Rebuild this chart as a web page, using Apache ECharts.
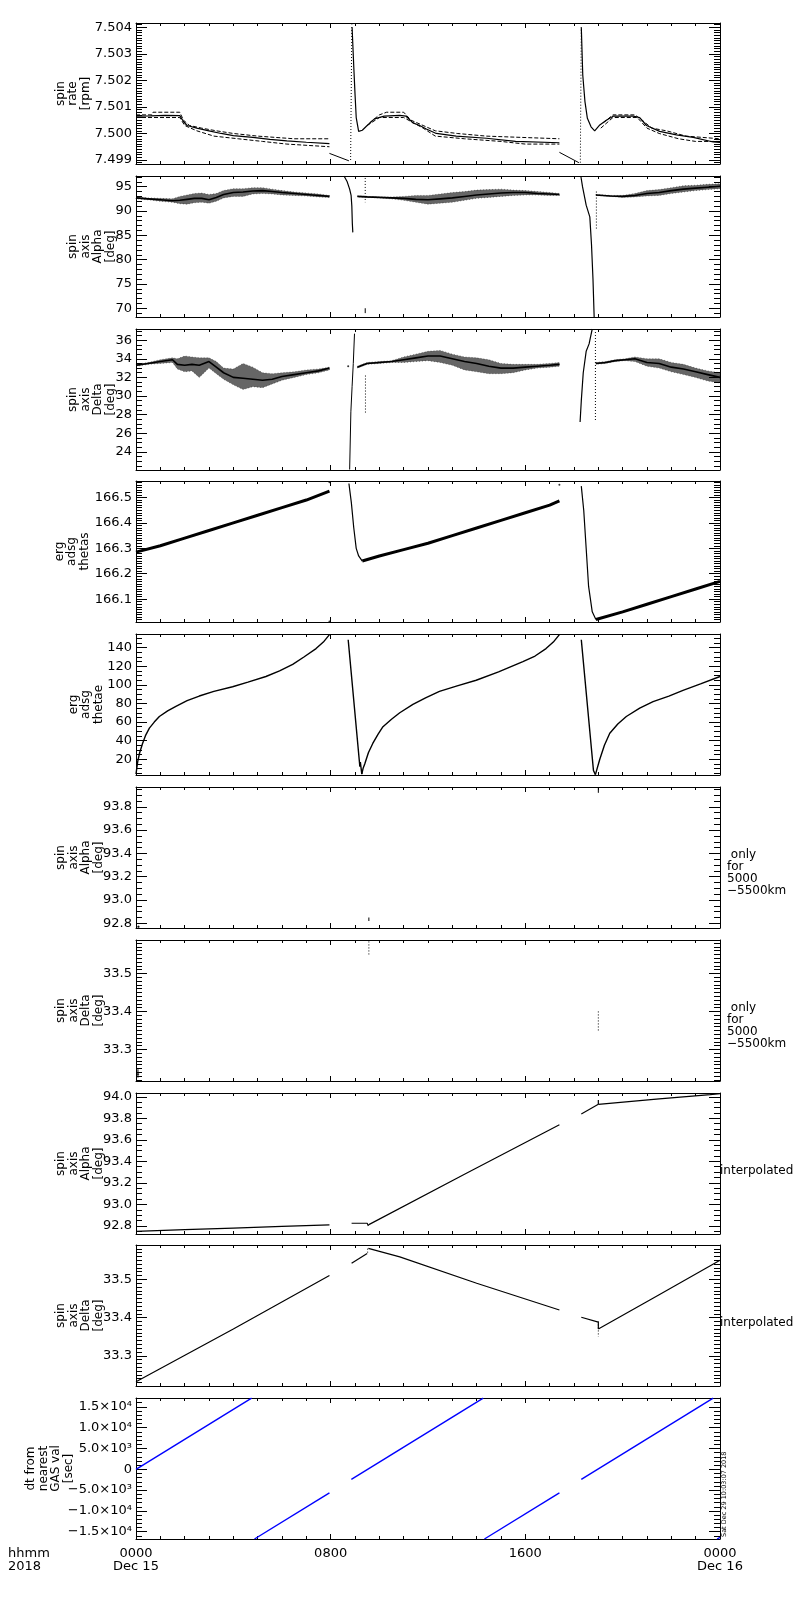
<!DOCTYPE html>
<html>
<head>
<meta charset="utf-8">
<script src="https://cdn.jsdelivr.net/npm/echarts@6/dist/echarts.min.js"></script>
<style>
html,body{margin:0;padding:0;background:#fff}
#main{width:800px;height:1600px}
</style>
</head>
<body>
<div id="main"></div>
<script>
// time axis in hours from 0000 Dec 15 2018
var timeLabels = {0:'0000\nDec 15', 8:'0800', 16:'1600', 24:'0000\nDec 16'};

// ---- panel 1 : spin rate [rpm]
var rateMidA = [[0,7.50065],[0.6,7.50066],[1.2,7.50068],[1.8,7.50067],[1.95,7.50045],[2.1,7.50030],[2.5,7.50020],[3.0,7.50010],[3.5,7.50000],[4.0,7.49992],[4.8,7.49985],[5.5,7.49978],[6.2,7.49972],[7.0,7.49967],[7.95,7.49962]];
var rateHiA = [[0,7.5007],[0.65,7.5007],[0.7,7.5008],[1.8,7.5008],[1.95,7.5005],[2.2,7.5003],[2.7,7.5002],[3.3,7.5001],[4.0,7.5000],[5.0,7.4999],[6.5,7.4998],[7.95,7.4998]];
var rateLoA = [[0,7.5006],[1.8,7.5006],[2.0,7.5003],[2.5,7.5001],[3.2,7.4999],[4.2,7.4998],[5.2,7.4997],[6.2,7.4996],[7.95,7.4995]];
var rateFallA = [[7.95,7.49925],[8.75,7.49897]];
var rateSpikeA = [[8.82,7.4990],[8.87,7.5041]];
var rateRecA = [[8.88,7.5040],[8.95,7.5025],[9.0,7.5015],[9.05,7.5006],[9.15,7.50008],[9.3,7.50012],[9.5,7.5003],[9.8,7.50055],[10.2,7.50065],[10.84,7.50068],[11.1,7.50065],[11.38,7.5004],[11.66,7.5003],[11.93,7.50017],[12.34,7.5000],[13.16,7.4999],[14.4,7.49982],[15.6,7.4997],[17.4,7.49965]];
var rateHiB = [[9.6,7.5004],[10.0,7.5007],[10.3,7.5008],[11.0,7.5008],[11.3,7.5005],[11.8,7.5003],[12.3,7.5001],[13.2,7.5000],[14.4,7.4999],[17.4,7.4998]];
var rateLoB = [[9.5,7.5003],[10.0,7.5006],[11.0,7.5006],[11.4,7.5004],[11.8,7.5002],[12.3,7.4999],[13.5,7.4998],[15.0,7.4997],[16.0,7.4996],[17.4,7.4996]];
var rateFallB = [[17.4,7.49929],[18.2,7.4989]];
var rateSpikeB = [[18.26,7.4989],[18.3,7.5040]];
var rateRecB = [[18.3,7.5040],[18.36,7.5022],[18.45,7.5012],[18.55,7.50057],[18.7,7.50025],[18.85,7.5001],[19.06,7.50032],[19.33,7.5005],[19.61,7.50065],[20.43,7.50065],[20.7,7.5006],[20.98,7.5003],[21.52,7.50008],[22.21,7.49995],[22.9,7.49985],[23.72,7.49968],[24,7.49966]];
var rateHiC = [[19.2,7.5004],[19.6,7.5007],[20.5,7.5007],[20.8,7.5005],[21.2,7.5002],[21.8,7.5001],[22.6,7.4999],[24,7.4998]];
var rateLoC = [[19.1,7.5002],[19.6,7.5006],[20.6,7.5006],[21.0,7.5002],[21.5,7.5000],[22.3,7.4998],[23.0,7.4997],[24,7.4997]];

// ---- panel 2 : spin axis Alpha [deg]
var alphaT1 = [0,0.5,1.0,1.5,1.8,2.1,2.4,2.7,3.0,3.3,3.6,4.0,4.4,4.8,5.2,5.6,6.0,6.5,7.0,7.5,7.95];
var alphaMid1 = [92.7,92.5,92.3,92.1,92.2,92.4,92.6,92.6,92.3,92.8,93.4,93.8,93.9,94.1,94.2,94.0,93.8,93.6,93.4,93.2,93.0];
var alphaHi1 = [92.9,92.7,92.6,92.5,93.0,93.3,93.6,93.7,93.4,93.6,94.2,94.6,94.6,94.8,94.8,94.5,94.2,93.9,93.7,93.5,93.2];
var alphaLo1 = [92.5,92.3,92.0,91.8,91.5,91.4,91.7,91.8,91.6,92.0,92.7,93.0,93.0,93.5,93.6,93.5,93.3,93.2,93.1,92.9,92.8];
var alphaT2 = [9.1,9.5,10,10.5,11,11.5,12,12.5,13,13.5,14,14.5,15,15.5,16,16.5,17,17.4];
var alphaMid2 = [93.0,92.9,92.8,92.7,92.6,92.4,92.3,92.5,92.7,93.0,93.3,93.5,93.7,93.8,93.8,93.6,93.5,93.4];
var alphaHi2 = [93.1,93.0,92.9,92.9,93.0,93.2,93.2,93.5,93.8,94.0,94.3,94.4,94.5,94.3,94.2,94.0,93.8,93.6];
var alphaLo2 = [92.9,92.8,92.7,92.5,92.2,91.8,91.4,91.6,91.8,92.2,92.6,92.8,93.0,93.2,93.3,93.3,93.2,93.2];
var alphaT3 = [18.9,19.5,20,20.5,21,21.5,22,22.5,23,23.5,24];
var alphaMid3 = [93.3,93.1,93.0,93.2,93.6,93.8,94.2,94.5,94.7,94.9,95.1];
var alphaHi3 = [93.4,93.2,93.2,93.6,94.2,94.4,94.8,95.2,95.3,95.5,95.6];
var alphaLo3 = [93.2,93.0,92.8,92.9,93.1,93.2,93.6,93.9,94.2,94.4,94.6];
var alphaDropA = [[8.55,97.2],[8.68,96.0],[8.78,94.5],[8.84,93.2],[8.87,91.0],[8.89,87.5],[8.91,85.6]];
var alphaDotsA = [[9.42,96.8],[9.42,91.8]];
var alphaTickA = [[9.42,70.0],[9.42,69.0]];
var alphaDropB = [[18.28,97.2],[18.35,95.0],[18.45,92.5],[18.5,91.2],[18.58,90.8],[18.65,88.8],[18.72,83.0],[18.78,76.0],[18.83,68.0]];
var alphaDotsB = [[18.92,94.0],[18.92,86.0]];

// ---- panel 3 : spin axis Delta [deg]
var deltaT1 = [0,0.5,1.0,1.5,1.7,2.0,2.3,2.6,3.0,3.3,3.6,4.0,4.4,4.8,5.2,5.6,6.0,6.5,7.0,7.5,7.95];
var deltaMid1 = [33.3,33.5,33.7,33.9,33.4,33.3,33.4,33.3,33.7,33.1,32.5,32.0,31.9,31.8,31.7,31.8,32.1,32.3,32.5,32.7,33.0];
var deltaHi1 = [33.4,33.6,33.9,34.1,34.0,34.3,34.2,34.1,34.1,33.7,33.0,32.9,33.5,33.1,32.5,32.4,32.5,32.6,32.8,32.9,33.1];
var deltaLo1 = [33.2,33.4,33.5,33.6,32.9,32.6,32.7,32.0,33.0,32.4,31.8,31.2,30.7,31.0,30.9,31.3,31.7,32.0,32.3,32.5,32.8];
var deltaT2 = [9.1,9.3,9.5,10,10.5,11,11.5,12,12.5,13,13.5,14,14.5,15,15.5,16,16.5,17,17.4];
var deltaMid2 = [33.1,33.3,33.5,33.6,33.7,33.9,34.1,34.3,34.3,34.0,33.7,33.5,33.2,33.0,33.0,33.1,33.2,33.3,33.4];
var deltaHi2 = [33.2,33.4,33.6,33.7,33.8,34.2,34.5,34.8,34.9,34.5,34.2,34.1,33.9,33.5,33.4,33.4,33.4,33.5,33.6];
var deltaLo2 = [33.0,33.2,33.4,33.5,33.6,33.6,33.7,33.8,33.6,33.3,32.8,32.6,32.4,32.4,32.5,32.8,33.0,33.1,33.2];
var deltaT3 = [18.9,19.3,19.7,20.1,20.5,21,21.5,22,22.5,23,23.5,24];
var deltaMid3 = [33.5,33.6,33.8,33.9,34.0,33.6,33.5,33.1,32.9,32.6,32.3,32.0];
var deltaHi3 = [33.6,33.7,33.9,34.0,34.2,34.0,34.0,33.6,33.4,33.0,32.7,32.5];
var deltaLo3 = [33.4,33.5,33.7,33.8,33.7,33.2,33.0,32.6,32.3,32.0,31.6,31.4];
var deltaDot = [[8.72,33.2]];
var deltaRiseA = [[8.78,22.1],[8.83,28.3],[8.88,31.0],[8.93,33.5],[8.98,36.7]];
var deltaDotsA = [[9.43,32.2],[9.43,28.1]];
var deltaRiseB = [[18.25,27.2],[18.3,29.5],[18.38,32.5],[18.5,34.8],[18.62,35.6],[18.7,36.6],[18.75,37.2]];
var deltaDotsB = [[18.88,37.2],[18.88,27.4]];

// ---- panel 4 : erg adsg thetas
var thetasA = [[0,166.285],[1,166.31],[2,166.34],[3,166.37],[4,166.40],[5,166.43],[6,166.46],[7,166.49],[7.95,166.525]];
var thetasDropA = [[8.75,166.555],[8.85,166.48],[8.95,166.38],[9.05,166.30],[9.15,166.27],[9.3,166.25]];
var thetasB = [[9.3,166.25],[10,166.27],[11,166.295],[12,166.32],[13,166.35],[14,166.38],[15,166.41],[16,166.44],[17,166.47],[17.4,166.487]];
var thetasDropB = [[18.3,166.545],[18.4,166.45],[18.5,166.30],[18.6,166.15],[18.75,166.05],[18.9,166.02]];
var thetasC = [[18.9,166.02],[20,166.05],[21,166.08],[22,166.11],[23,166.14],[24,166.17]];
var thetasDots = [[7.95,166.56],[7.95,166.012],[17.4,166.55]];

// ---- panel 5 : erg adsg thetae
var thetaeA = [[0,4],[0.03,10],[0.07,17.5],[0.15,27],[0.27,37],[0.4,46],[0.55,53.5],[0.75,60],[0.96,66],[1.3,72],[1.64,77],[2.1,83],[2.6,88],[3.2,93],[3.97,98],[4.6,103],[5.34,109],[5.9,115],[6.44,122],[6.9,130],[7.4,139],[7.7,146],[7.95,154]];
var thetaeDropA = [[8.72,148.5],[9.2,12],[9.22,17],[9.28,4]];
var thetaeB = [[9.28,4],[9.33,10],[9.4,15],[9.55,27],[9.73,37],[9.95,47],[10.15,55],[10.5,63],[10.84,70],[11.38,79],[11.9,86],[12.47,93],[13.2,99],[13.98,105],[14.9,114],[15.9,125],[16.4,131],[16.85,139],[17.15,146],[17.4,154]];
var thetaeDropB = [[18.3,148.5],[18.8,8],[18.88,3.5]];
var thetaeC = [[18.88,3.5],[18.95,10],[19.06,20],[19.25,35],[19.47,48],[19.8,58],[20.15,66],[20.7,75],[21.25,82],[21.9,88],[22.48,94],[23.2,101],[24,109]];

// ---- panel 6 / 7 : only for 5000-5500km
var alphaOnlyMarks = [[[0.05,92.77],[0.15,92.77]], [[0.1,92.763],[0.1,92.78]], [[9.57,92.82],[9.57,92.85]], [[19.0,93.92],[19.0,93.97]]];
var deltaOnlyMarks = [[[0.03,33.235],[0.13,33.235]], [[0.08,33.226],[0.08,33.248]]];
var deltaOnlyDots = [[[9.57,33.55],[9.57,33.585]], [[19.0,33.35],[19.0,33.40]]];

// ---- panel 8 : spin axis Alpha interpolated
var alphaIntA = [[0,92.75],[2,92.765],[4,92.78],[6,92.795],[7.95,92.81]];
var alphaIntB = [[8.86,92.825],[9.5,92.825],[9.55,92.80]];
var alphaIntC = [[9.55,92.81],[13.5,93.28],[17.4,93.74]];
var alphaIntD = [[18.3,93.84],[19.0,93.93]];
var alphaIntE = [[19.0,93.93],[21.5,93.98],[23.6,94.02],[24,94.03]];
var alphaIntTick = [[19.0,93.93],[19.0,93.97]];

// ---- panel 9 : spin axis Delta interpolated
var deltaIntA = [[0,33.232],[4,33.37],[7.95,33.51]];
var deltaIntB = [[8.86,33.542],[9.5,33.568]];
var deltaIntC = [[9.55,33.581],[10.84,33.559],[14,33.49],[17.4,33.42]];
var deltaIntD = [[18.3,33.401],[19.0,33.388],[19.0,33.37]];
var deltaIntE = [[19.0,33.37],[21.5,33.46],[24,33.55]];
var deltaIntDots = [[[9.52,33.57],[9.52,33.585]], [[19.0,33.39],[19.0,33.35]]];

// ---- panel 10 : dt from nearest GAS val [sec]
var dtSegs = [
  [[0,0],[4.75,17100]],
  [[4.87,-16750],[7.95,-5650]],
  [[8.85,-2410],[14.27,17100]],
  [[14.32,-16750],[17.4,-5650]],
  [[18.3,-2410],[23.72,17100]],
  [[23.88,-16750],[24,-16350]]
];

var FONT = 'DejaVu Sans';
var panels = [
  {name:'spin\nrate\n[rpm]', min:7.49885, max:7.50416, major:0.001, minor:0.0001, digits:3, gap:44},
  {name:'spin\naxis\nAlpha\n[deg]', min:68.2, max:97.2, major:5, minor:1, digits:0, gap:19},
  {name:'spin\naxis\nDelta\n[deg]', min:22.05, max:37.2, major:2, minor:0.5, digits:0, gap:19},
  {name:'erg\nadsg\nthetas', min:166.01, max:166.565, major:0.1, minor:0.01, digits:1, gap:45},
  {name:'erg\nadsg\nthetae', min:3.1, max:154.7, major:20, minor:5, digits:0, gap:31},
  {name:'spin\naxis\nAlpha\n[deg]', min:92.76, max:93.97, major:0.2, minor:0.05, digits:1, gap:31},
  {name:'spin\naxis\nDelta\n[deg]', min:33.217, max:33.588, major:0.1, minor:0.01, digits:1, gap:31},
  {name:'spin\naxis\nAlpha\n[deg]', min:92.725, max:94.035, major:0.2, minor:0.05, digits:1, gap:31},
  {name:'spin\naxis\nDelta\n[deg]', min:33.221, max:33.59, major:0.1, minor:0.01, digits:1, gap:31},
  {name:'dt from\nnearest\nGAS val\n[sec]', min:-16750, max:17140, major:5000, minor:1000, digits:-1, gap:61}
];

function pairs(t, v){ return t.map(function(x, i){ return [x, v[i]]; }); }

var sup = {'3':'\u00b3','4':'\u2074'};
function sciLabel(v){
  if (Math.abs(v) < 1e-9) return '0';
  var e = Math.floor(Math.log10(Math.abs(v)) + 1e-9);
  var m = (Math.abs(v) / Math.pow(10, e)).toFixed(1);
  return (v < 0 ? '\u2212' : '') + m + '\u00d710' + sup[String(e)];
}

var grids = [], xAxes = [], yAxes = [], series = [];
panels.forEach(function(p, i){
  var top = Math.round(23 + 152.8 * i);
  grids.push({left:136, width:584, top:top, height:141});
  var last = (i === panels.length - 1);
  [ 'bottom', 'top' ].forEach(function(pos){
    xAxes.push({
      type:'value', gridIndex:i, position:pos, min:0, max:24, interval:8,
      axisLine:{show:true, onZero:false, lineStyle:{color:'#000', width:1}},
      axisTick:{show:true, inside:true, length:5, lineStyle:{color:'#000'}},
      minorTick:{show:true, splitNumber:8, length:3, lineStyle:{color:'#000'}},
      splitLine:{show:false}, minorSplitLine:{show:false},
      axisLabel:{show: last && pos === 'bottom', margin:8, color:'#000', fontFamily:FONT, fontSize:13, lineHeight:13,
        formatter:function(v){ return timeLabels[v] !== undefined ? timeLabels[v] : ''; }}
    });
  });
  [ 'left', 'right' ].forEach(function(pos){
    var isLeft = pos === 'left';
    yAxes.push({
      type:'value', gridIndex:i, position:pos, min:p.min, max:p.max,
      minInterval:p.major, maxInterval:p.major, splitNumber:5,
      axisLine:{show:true, onZero:false, lineStyle:{color:'#000', width:1}},
      axisTick:{show:true, inside:true, length:11, lineStyle:{color:'#000'}},
      splitLine:{show:false},
      axisLabel:{show:isLeft, showMinLabel:false, showMaxLabel:false, margin:4, color:'#000', fontFamily:FONT, fontSize:13,
        formatter:function(v){ return p.digits < 0 ? sciLabel(v) : v.toFixed(p.digits); }},
      name: isLeft ? p.name : '', nameLocation:'middle', nameRotate:90, nameGap:p.gap, nameMoveOverlap:false,
      nameTextStyle:{color:'#000', fontFamily:FONT, fontSize:12, lineHeight:12.5}
    });
    yAxes.push({
      type:'value', gridIndex:i, position:pos, min:p.min, max:p.max,
      minInterval:p.minor, maxInterval:p.minor, splitNumber:20,
      axisLine:{show:false, onZero:false},
      axisTick:{show:true, inside:true, length:6, lineStyle:{color:'#000'}},
      splitLine:{show:false}, axisLabel:{show:false}
    });
  });
});

function seg(pi, data, w, type, color){
  series.push({type:'line', xAxisIndex:pi*2, yAxisIndex:pi*4, data:data, symbol:'none', silent:true,
    lineStyle:{color:color || '#000', width:w || 1, type:type || 'solid'}});
}
function dots(pi, data, size){
  series.push({type:'scatter', xAxisIndex:pi*2, yAxisIndex:pi*4, data:data, symbolSize:size || 2, silent:true,
    itemStyle:{color:'#000'}});
}
// scatter cloud drawn as a shaded band between lo and hi, plus its centre line
function band(pi, t, mid, hi, lo){
  var upper = pairs(t, hi), lower = pairs(t, lo).reverse();
  series.push({type:'custom', xAxisIndex:pi*2, yAxisIndex:pi*4, data:[upper[0]], silent:true, z:1,
    renderItem:function(params, api){
      var pts = upper.concat(lower).map(function(d){ return api.coord(d); });
      return {type:'polygon', shape:{points:pts}, style:{fill:'rgba(0,0,0,0.6)', stroke:'rgba(0,0,0,0.7)', lineWidth:0.6, lineDash:[1, 2]}};
    }});
  seg(pi, pairs(t, mid), 1.6);
}
var DOT = [1, 2];

// panel 1
[rateMidA, rateRecA, rateRecB].forEach(function(d){ seg(0, d, 1.2); });
[rateHiA, rateLoA, rateHiB, rateLoB, rateHiC, rateLoC].forEach(function(d){ seg(0, d, 1, [4, 2]); });
seg(0, rateFallA, 1); seg(0, rateFallB, 1);
seg(0, rateSpikeA, 1, DOT); seg(0, rateSpikeB, 1, DOT);

// panel 2
band(1, alphaT1, alphaMid1, alphaHi1, alphaLo1);
band(1, alphaT2, alphaMid2, alphaHi2, alphaLo2);
band(1, alphaT3, alphaMid3, alphaHi3, alphaLo3);
seg(1, alphaDropA, 1.2); seg(1, alphaDropB, 1.2);
seg(1, alphaDotsA, 1, DOT); seg(1, alphaDotsB, 1, DOT); seg(1, alphaTickA, 1);

// panel 3
band(2, deltaT1, deltaMid1, deltaHi1, deltaLo1);
band(2, deltaT2, deltaMid2, deltaHi2, deltaLo2);
band(2, deltaT3, deltaMid3, deltaHi3, deltaLo3);
dots(2, deltaDot, 2);
seg(2, deltaRiseA, 1); seg(2, deltaRiseB, 1.2);
seg(2, deltaDotsA, 1, DOT); seg(2, deltaDotsB, 1, DOT);

// panel 4
[thetasA, thetasB, thetasC].forEach(function(d){ seg(3, d, 3); });
seg(3, thetasDropA, 1.2); seg(3, thetasDropB, 1.2);
dots(3, thetasDots, 2);

// panel 5
[thetaeA, thetaeB, thetaeC, thetaeDropA, thetaeDropB].forEach(function(d){ seg(4, d, 1.4); });

// panel 6, 7
alphaOnlyMarks.forEach(function(d){ seg(5, d, 1); });
deltaOnlyMarks.forEach(function(d){ seg(6, d, 1); });
deltaOnlyDots.forEach(function(d){ seg(6, d, 1, DOT); });

// panel 8
[alphaIntA, alphaIntB, alphaIntC, alphaIntD, alphaIntE, alphaIntTick].forEach(function(d){ seg(7, d, 1.2); });

// panel 9
[deltaIntA, deltaIntB, deltaIntC, deltaIntD, deltaIntE].forEach(function(d){ seg(8, d, 1.2); });
deltaIntDots.forEach(function(d){ seg(8, d, 1, DOT); });

// panel 10
dtSegs.forEach(function(d){ seg(9, d, 1.4, 'solid', '#0000ff'); });

function txt(x, y, s, size){
  return {type:'text', x:x, y:y, silent:true,
    style:{text:s, fill:'#000', fontFamily:FONT, fontSize:size, lineHeight:size, textAlign:'left', textVerticalAlign:'top'}};
}

var chart = echarts.init(document.getElementById('main'), null, {renderer:'canvas'});
chart.setOption({
  animation:false,
  backgroundColor:'#fff',
  grid:grids, xAxis:xAxes, yAxis:yAxes, series:series,
  graphic:[
    txt(727, 849, ' only\nfor\n5000\n\u22125500km', 12),
    txt(727, 1002, ' only\nfor\n5000\n\u22125500km', 12),
    txt(720, 1165, 'interpolated', 12),
    txt(720, 1317, 'interpolated', 12),
    txt(8, 1547, 'hhmm\n2018', 13),
    {type:'text', x:724, y:1537, rotation:Math.PI/2, silent:true,
      style:{text:'Sat Dec 29 10:03:07 2018', fill:'#000', fontFamily:FONT, fontSize:6.5, textAlign:'left', textVerticalAlign:'middle'}}
  ]
});
</script>
</body>
</html>
